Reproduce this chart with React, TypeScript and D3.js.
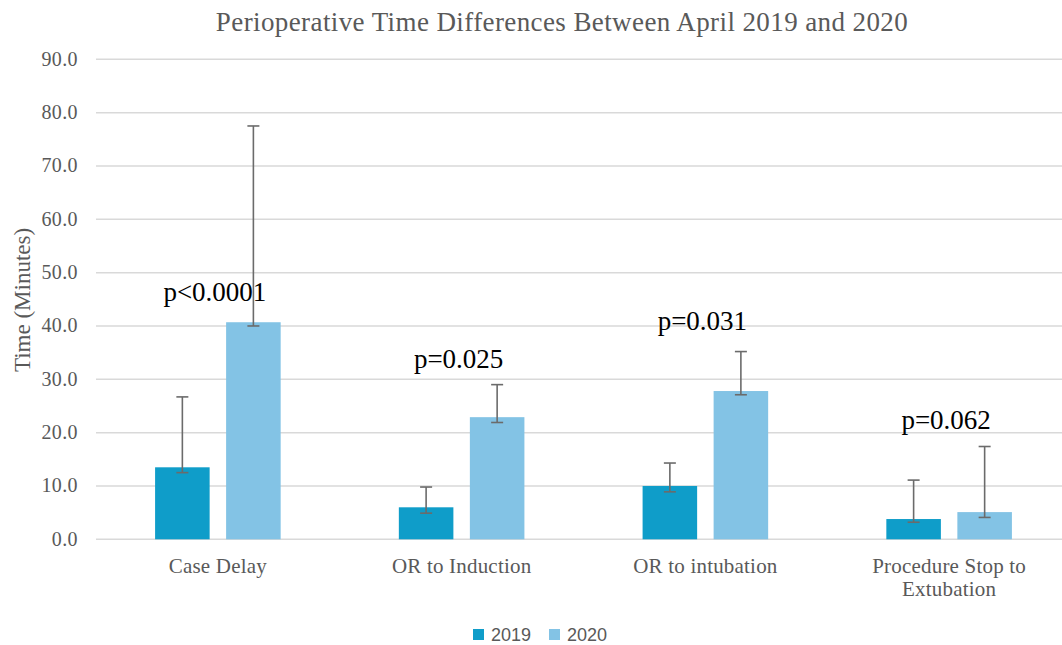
import React, { useEffect, useRef } from 'react';
import * as d3 from 'd3';

const categories = ['Case Delay', 'OR to Induction', 'OR to intubation', 'Procedure Stop to\nExtubation'];
const seriesNames = ['2019', '2020'];
const values2019 = [13.5, 6.0, 10.0, 3.8];
const values2020 = [40.7, 22.9, 27.8, 5.1];
const errLow2019 = [12.5, 4.9, 8.9, 3.2];
const errHigh2019 = [26.7, 9.8, 14.3, 11.1];
const errLow2020 = [40.0, 21.9, 27.1, 4.1];
const errHigh2020 = [77.5, 29.0, 35.2, 17.4];
const pLabels = ['p<0.0001', 'p=0.025', 'p=0.031', 'p=0.062'];
const pLabelValues = [44.6, 32.2, 39.3, 20.6];
const yTicks = [0, 10, 20, 30, 40, 50, 60, 70, 80, 90];

export default function App() {
  const ref = useRef<SVGSVGElement>(null);
  const width = 1062;
  const height = 645;

  useEffect(() => {
    const svg = d3.select(ref.current);
    svg.selectAll('*').remove();

    const serif = '"Liberation Serif", "Times New Roman", serif';
    const gray = '#595959';
    const colors = ['#0f9dc9', '#83c3e5'];

    const x = d3.scaleBand().domain(categories).range([96, 1071]).paddingInner(0).paddingOuter(0);
    const xs = d3.scaleBand().domain(seriesNames).range([0, x.bandwidth()]).paddingInner(0.232).paddingOuter(0.832);
    const y = d3.scaleLinear().domain([0, 90]).range([539.3, 59.3]);

    // title
    svg.append('text')
      .attr('x', 562).attr('y', 31)
      .attr('text-anchor', 'middle')
      .style('font-family', serif).style('font-size', '27px').style('fill', gray)
      .style('letter-spacing', '0.4px')
      .text('Perioperative Time Differences Between  April 2019 and 2020');

    // grid
    svg.append('g').selectAll('line').data(yTicks).join('line')
      .attr('x1', 96).attr('x2', width)
      .attr('y1', d => y(d)).attr('y2', d => y(d))
      .attr('stroke', '#d9d9d9').attr('stroke-width', 1.5);

    // y tick labels
    svg.append('g').selectAll('text').data(yTicks).join('text')
      .attr('x', 78).attr('y', d => y(d) + 6.5)
      .attr('text-anchor', 'end')
      .style('font-family', serif).style('font-size', '20px').style('fill', gray)
      .style('letter-spacing', '0.4px')
      .text(d => d3.format('.1f')(d));

    svg.append('text')
      .attr('transform', 'translate(30,300) rotate(-90)')
      .attr('text-anchor', 'middle')
      .style('font-family', serif).style('font-size', '23px').style('fill', gray)
      .text('Time (Minutes)');

    // bars
    const rows = categories.map((c, i) => ({
      cat: c,
      items: [
        { s: '2019', v: values2019[i], lo: errLow2019[i], hi: errHigh2019[i] },
        { s: '2020', v: values2020[i], lo: errLow2020[i], hi: errHigh2020[i] },
      ],
    }));

    const groups = svg.append('g').selectAll('g').data(rows).join('g')
      .attr('transform', d => `translate(${x(d.cat)},0)`);

    groups.selectAll('rect').data(d => d.items).join('rect')
      .attr('x', d => xs(d.s)!)
      .attr('width', xs.bandwidth())
      .attr('y', d => y(d.v))
      .attr('height', d => y(0) - y(d.v))
      .attr('fill', (d, i) => colors[i]);

    const err = groups.selectAll('g.err').data(d => d.items).join('g').attr('class', 'err')
      .attr('stroke', '#6b6b6b').attr('stroke-width', 1.6);
    const cx = (d: { s: string }) => xs(d.s)! + xs.bandwidth() / 2;
    err.append('line')
      .attr('x1', cx).attr('x2', cx)
      .attr('y1', d => y(d.lo)).attr('y2', d => y(d.hi));
    err.append('line')
      .attr('x1', d => cx(d) - 6).attr('x2', d => cx(d) + 6)
      .attr('y1', d => y(d.lo)).attr('y2', d => y(d.lo));
    err.append('line')
      .attr('x1', d => cx(d) - 6).attr('x2', d => cx(d) + 6)
      .attr('y1', d => y(d.hi)).attr('y2', d => y(d.hi));

    // p-values
    svg.append('g').selectAll('text').data(pLabels).join('text')
      .attr('x', (d, i) => x(categories[i])! + x.bandwidth() / 2 - 3)
      .attr('y', (d, i) => y(pLabelValues[i]))
      .attr('text-anchor', 'middle')
      .style('font-family', serif).style('font-size', '27px').style('fill', '#000')
      .text(d => d);

    // x labels
    const xl = svg.append('g').selectAll('text').data(categories).join('text')
      .attr('x', d => x(d)! + x.bandwidth() / 2)
      .attr('y', 573)
      .attr('text-anchor', 'middle')
      .style('font-family', serif).style('font-size', '21px').style('fill', gray)
      .style('letter-spacing', '0.2px');
    xl.selectAll('tspan').data(d => d.split('\n')).join('tspan')
      .attr('x', function () { return d3.select((this as any).parentNode).attr('x'); })
      .attr('dy', (d, i) => (i === 0 ? 0 : 23))
      .text(d => d);

    // legend
    const legendX = [473, 549];
    const lg = svg.append('g').selectAll('g').data(seriesNames).join('g')
      .attr('transform', (d, i) => `translate(${legendX[i]},629)`);
    lg.append('rect').attr('width', 11).attr('height', 11).attr('fill', (d, i) => colors[i]);
    lg.append('text').attr('x', 18).attr('y', 11.5)
      .style('font-family', '"Liberation Sans", Arial, sans-serif').style('font-size', '18px').style('fill', gray)
      .text(d => d);
  }, []);

  return (
    <>
      <style>{'body{margin:0}'}</style>
      <svg ref={ref} width={width} height={height} style={{ display: 'block', background: '#fff' }} />
    </>
  );
}
